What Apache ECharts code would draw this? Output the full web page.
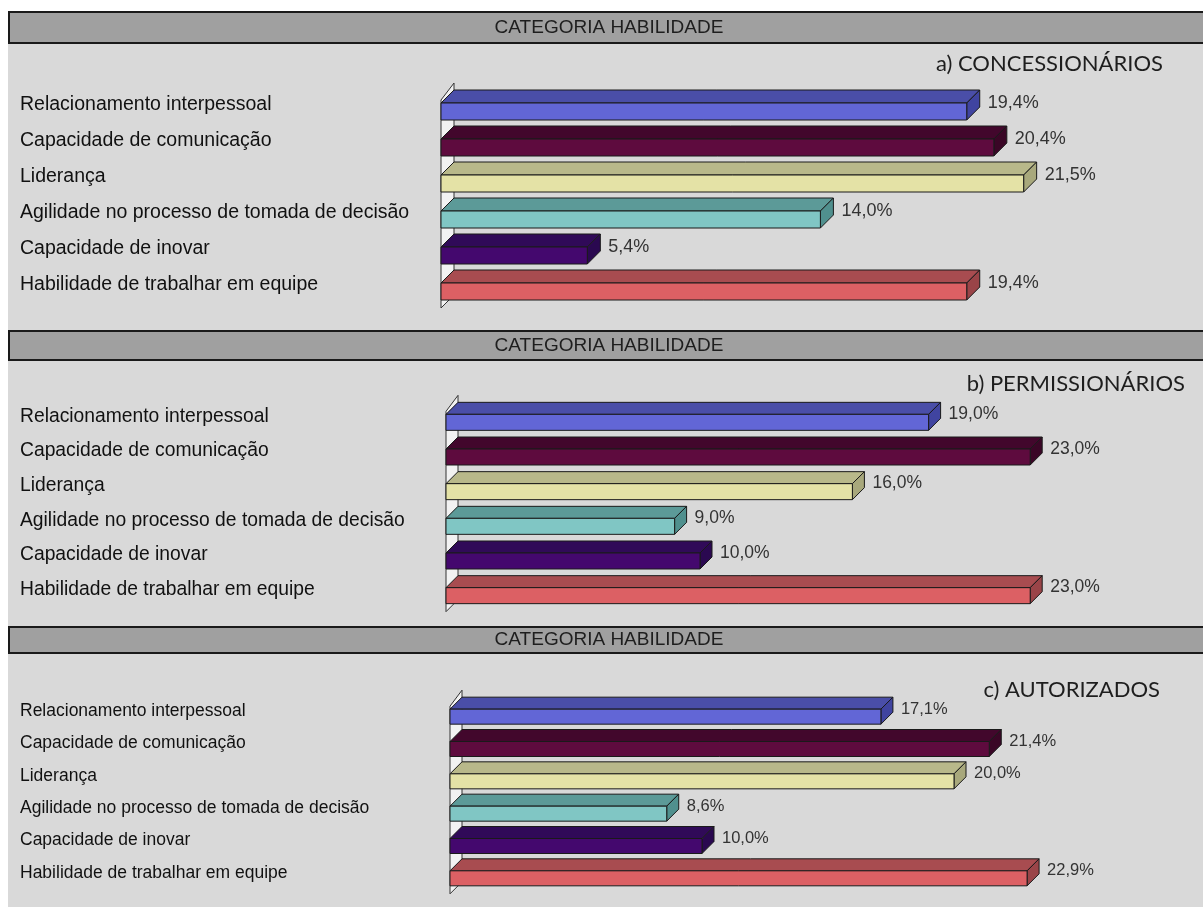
<!DOCTYPE html>
<html><head><meta charset="utf-8">
<script src="https://cdn.jsdelivr.net/npm/echarts@6/dist/echarts.min.js"></script>
<style>html,body{margin:0;padding:0;background:#fff}#c{width:1203px;height:907px}</style>
</head><body><div id="c"></div>
<script>
// ---- data ----
const categories = [
  'Relacionamento interpessoal',
  'Capacidade de comunicação',
  'Liderança',
  'Agilidade no processo de tomada de decisão',
  'Capacidade de inovar',
  'Habilidade de trabalhar em equipe'
];
const valuesConcessionarios = [19.4, 20.4, 21.5, 14.0, 5.4, 19.4];
const valuesPermissionarios = [19.0, 23.0, 16.0, 9.0, 10.0, 23.0];
const valuesAutorizados = [17.1, 21.4, 20.0, 8.6, 10.0, 22.9];
const panelTitles = ['a) CONCESSIONÁRIOS', 'b) PERMISSIONÁRIOS', 'c) AUTORIZADOS'];
const headerText = 'CATEGORIA HABILIDADE';

// ---- styles ----
const frontColors = ['#6266d6', '#5e0b3e', '#e4e2a6', '#80c6c4', '#44086e', '#dc6064'];
const topColors = ['#4a4ea8', '#42072c', '#b8b88a', '#5c9a98', '#300a58', '#a84c50'];
const sideColors = ['#4044a0', '#3a0626', '#a8a87c', '#50908e', '#2a0850', '#9a4448'];

const panels = [
  {vals: valuesConcessionarios, left: 441, width: 677.5, top: 87, height: 216, headerY: 12, headerH: 31,
   titleX: 1163, titleY: 64, catFont: 19.5, valFont: 18, depth: 13, front: 17},
  {vals: valuesPermissionarios, left: 446, width: 635, top: 399, height: 208, headerY: 331, headerH: 29,
   titleX: 1185, titleY: 384, catFont: 19.3, valFont: 17.5, depth: 12, front: 16},
  {vals: valuesAutorizados, left: 450, width: 630, top: 695, height: 194, headerY: 627, headerH: 26,
   titleX: 1160, titleY: 690, catFont: 17.5, valFont: 16.5, depth: 12, front: 15}
];

const fmt = v => v.toFixed(1).replace('.', ',') + '%';

const grid = [], xAxis = [], yAxis = [], series = [], graphic = [];

graphic.push({type: 'rect', shape: {x: 0, y: 0, width: 8, height: 907}, style: {fill: '#fff'}, z: 0});
graphic.push({type: 'rect', shape: {x: 0, y: 0, width: 1203, height: 12}, style: {fill: '#fff'}, z: 0});

panels.forEach((p, k) => {
  grid.push({left: p.left, width: p.width, top: p.top, height: p.height});
  xAxis.push({type: 'value', gridIndex: k, min: 0, max: 25, show: false});
  yAxis.push({
    type: 'category', gridIndex: k, data: categories, inverse: true,
    axisLine: {show: false}, axisTick: {show: false}, splitLine: {show: false},
    axisLabel: {align: 'left', margin: p.left - 20, fontSize: p.catFont, color: '#111',
      fontFamily: '"Liberation Sans", Arial, sans-serif'}
  });
  // wall
  series.push({
    type: 'custom', xAxisIndex: k, yAxisIndex: k, silent: true, z: 1,
    data: [[0, 0]],
    renderItem: (params, api) => {
      const a = api.coord([0, 0]);
      const b = api.coord([0, categories.length - 1]);
      const d = p.depth;
      const x0 = a[0];
      const yTop = a[1] - 5;
      const yBot = b[1] - 2 + p.front + 8;
      return {
        type: 'polygon',
        shape: {points: [[x0, yTop], [x0 + d, yTop - d - 4], [x0 + d, yBot - d], [x0, yBot]]},
        style: {fill: '#f2f2f2', stroke: '#333', lineWidth: 1}
      };
    }
  });
  // 3D bars
  series.push({
    type: 'custom', xAxisIndex: k, yAxisIndex: k, z: 2,
    encode: {x: 0, y: 1},
    data: p.vals.map((v, i) => [v, i]),
    renderItem: (params, api) => {
      const v = api.value(0), i = api.value(1);
      const s = api.coord([0, i]);
      const e = api.coord([v, i]);
      const x0 = s[0], xv = e[0];
      const d = p.depth, fh = p.front;
      const ft = s[1] - 2;
      const st = {stroke: '#1a1a1a', lineWidth: 1};
      return {
        type: 'group',
        children: [
          {type: 'polygon', shape: {points: [[x0, ft], [xv, ft], [xv + d, ft - d], [x0 + d, ft - d]]},
            style: Object.assign({fill: topColors[i]}, st)},
          {type: 'polygon', shape: {points: [[xv, ft], [xv + d, ft - d], [xv + d, ft - d + fh], [xv, ft + fh]]},
            style: Object.assign({fill: sideColors[i]}, st)},
          {type: 'rect', shape: {x: x0, y: ft, width: xv - x0, height: fh},
            style: Object.assign({fill: frontColors[i]}, st)},
          {type: 'text', x: xv + d + 8, y: ft,
            style: {text: fmt(v), fill: '#333', fontSize: p.valFont,
              fontFamily: '"Liberation Sans", Arial, sans-serif', align: 'left', verticalAlign: 'middle'}}
        ]
      };
    }
  });
  // header bar
  graphic.push({type: 'rect', shape: {x: 9, y: p.headerY, width: 1200, height: p.headerH},
    style: {fill: '#a0a0a0', stroke: '#1a1a1a', lineWidth: 2}, z: 1});
  graphic.push({type: 'text', x: 609, y: p.headerY + p.headerH / 2,
    style: {text: headerText, fill: '#1e1e1e', fontSize: 19, fontFamily: '"Liberation Sans", Arial, sans-serif',
      align: 'center', verticalAlign: 'middle'}, z: 2});
  graphic.push({type: 'text', x: p.titleX, y: p.titleY,
    style: {text: panelTitles[k], fill: '#1e1e1e', fontSize: 22, fontFamily: 'Lato, "Open Sans", sans-serif',
      align: 'right', verticalAlign: 'middle'}, z: 2});
});

const chart = echarts.init(document.getElementById('c'), null, {renderer: 'canvas'});
chart.setOption({
  backgroundColor: '#d9d9d9',
  animation: false,
  grid, xAxis, yAxis, series, graphic
});
</script></body></html>
